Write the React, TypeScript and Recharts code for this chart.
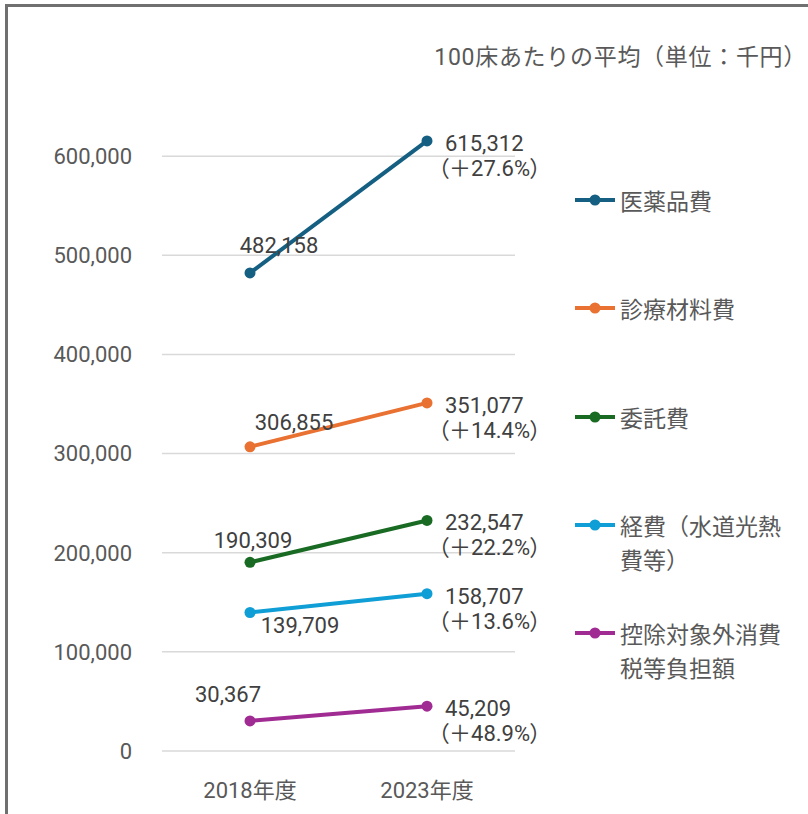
import React from "react";
import { CartesianGrid, Line, LineChart, XAxis, YAxis } from "recharts";

// 100床あたりの平均（単位：千円）
const years = ["2018年度", "2023年度"];
const drugCost = [482158, 615312];
const materialCost = [306855, 351077];
const outsourcingCost = [190309, 232547];
const utilityCost = [139709, 158707];
const taxBurden = [30367, 45209];
const yTicks = [0, 100000, 200000, 300000, 400000, 500000, 600000];
const title = "100床あたりの平均（単位：千円）";

const series = [
  { key: "drug", name: "医薬品費", values: drugCost, color: "#156082", first: { dx: 29, dy: -27 } },
  { key: "material", name: "診療材料費", values: materialCost, color: "#E97132", first: { dx: 44, dy: -24 } },
  { key: "outsourcing", name: "委託費", values: outsourcingCost, color: "#196B24", first: { dx: 3, dy: -22 } },
  { key: "utility", name: "経費（水道光熱費等）", values: utilityCost, color: "#0F9ED5", first: { dx: 50, dy: 13 } },
  { key: "tax", name: "控除対象外消費税等負担額", values: taxBurden, color: "#A02B93", first: { dx: -22, dy: -26 } },
];

const data = years.map((year, i) => {
  const row: Record<string, string | number> = { year };
  series.forEach((s) => {
    row[s.key] = s.values[i];
  });
  return row;
});

const FONT = "Roboto, 'Noto Sans CJK JP', sans-serif";
const fmt = (v: number) => v.toLocaleString("en-US");

const makeLabel = (s: (typeof series)[number]) => (props: any) => {
  const { x, y, index, value } = props;
  const common = {
    fontFamily: FONT,
    fontSize: 22,
    fill: "#404040",
    style: { fontFeatureSettings: '"palt"' },
  };
  if (index === 0) {
    return (
      <text
        key={`${s.key}-0`}
        x={x + s.first.dx}
        y={y + s.first.dy}
        textAnchor="middle"
        dominantBaseline="central"
        {...common}
      >
        {fmt(value)}
      </text>
    );
  }
  const pct = ((value / s.values[0] - 1) * 100).toFixed(1);
  return (
    <text key={`${s.key}-1`} dominantBaseline="central" {...common}>
      <tspan x={x + 18} y={y + 2}>
        {fmt(value)}
      </tspan>
      <tspan x={x + 11} y={y + 27}>
        （＋{pct}%）
      </tspan>
    </text>
  );
};

export default function App() {
  return (
    <div
      style={{
        position: "absolute",
        left: 0,
        top: 0,
        width: 808,
        height: 814,
        overflow: "hidden",
        background: "#fff",
      }}
    >
      <div
        style={{
          position: "absolute",
          left: 5,
          top: 4,
          width: 900,
          height: 900,
          borderTop: "3px solid #707070",
          borderLeft: "3px solid #707070",
        }}
      />
      <div
        style={{
          position: "absolute",
          right: 1,
          top: 38,
          fontFamily: FONT,
          fontSize: 23,
          letterSpacing: 0.7,
          color: "#595959",
          whiteSpace: "nowrap",
        }}
      >
        {title}
      </div>
      <div style={{ position: "absolute", left: 0, top: 0 }}>
        <LineChart
          width={808}
          height={814}
          data={data}
          margin={{ top: 57, right: 293, bottom: 23, left: 62 }}
        >
          <CartesianGrid
            vertical={false}
            horizontalValues={yTicks}
            stroke="#d9d9d9"
            strokeWidth={1.5}
          />
          <XAxis
            dataKey="year"
            height={40}
            axisLine={false}
            tickLine={false}
            tickMargin={25}
            padding={{ left: 88, right: 88 }}
            tick={{ fontFamily: FONT, fontSize: 22, fill: "#595959" }}
          />
          <YAxis
            width={100}
            domain={[0, 700000]}
            ticks={yTicks}
            axisLine={false}
            tickLine={false}
            tickMargin={24}
            tickFormatter={fmt}
            tick={{ fontFamily: FONT, fontSize: 22, fill: "#595959" }}
          />
          {series.map((s) => (
            <Line
              key={s.key}
              dataKey={s.key}
              name={s.name}
              stroke={s.color}
              strokeWidth={4}
              dot={{ r: 5.5, fill: s.color, stroke: s.color, strokeWidth: 0 }}
              activeDot={false}
              isAnimationActive={false}
              label={makeLabel(s)}
            />
          ))}
        </LineChart>
      </div>
      {series.map((s, i) => (
        <div
          key={s.key}
          style={{
            position: "absolute",
            left: 575,
            top: 200 - 17 + i * 108.3,
            display: "flex",
            alignItems: "flex-start",
          }}
        >
          <svg width={45} height={34}>
            <line x1={0} y1={17} x2={40} y2={17} stroke={s.color} strokeWidth={4} />
            <circle cx={20} cy={17} r={5.5} fill={s.color} />
          </svg>
          <div
            style={{
              width: 170,
              fontFamily: "'Noto Sans CJK JP', sans-serif",
              fontSize: 23,
              lineHeight: "34px",
              color: "#595959",
            }}
          >
            {s.name}
          </div>
        </div>
      ))}
    </div>
  );
}
